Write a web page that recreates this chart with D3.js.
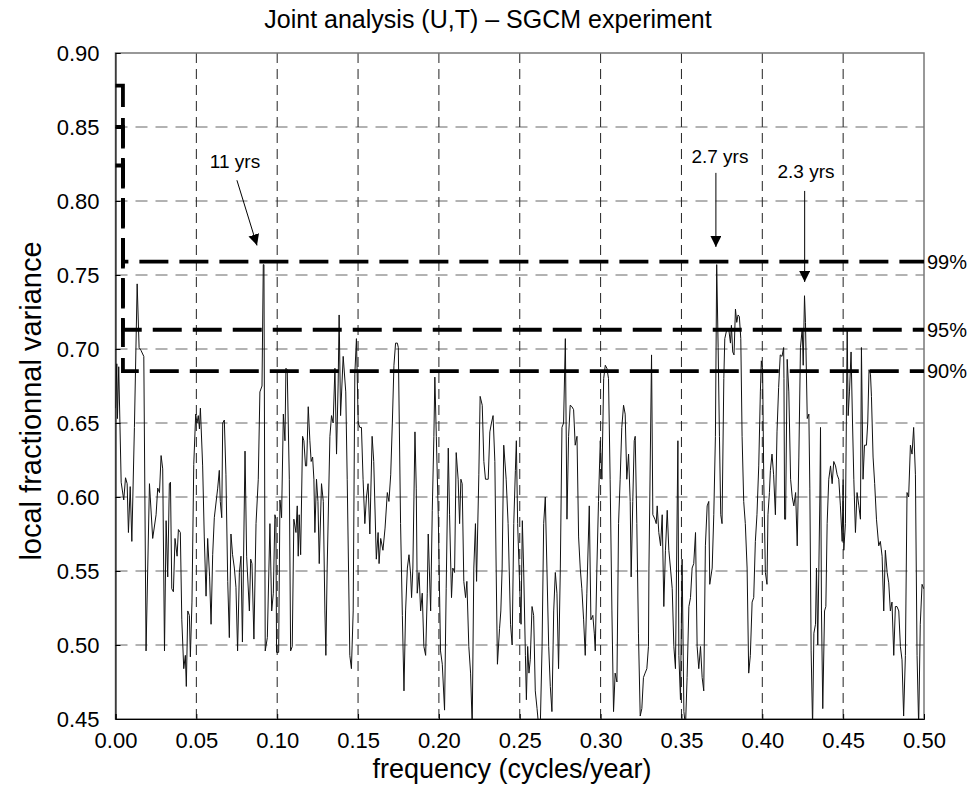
<!DOCTYPE html>
<html>
<head>
<meta charset="utf-8">
<script src="https://cdn.jsdelivr.net/npm/d3@7"></script>
<style>
  body { margin: 0; background: #fff; }
  svg { display: block; font-family: "Liberation Sans", Arial, Helvetica, sans-serif; }
</style>
</head>
<body>
<svg id="chart" width="976" height="788"></svg>
<script>
// spectrum, in bands of [frequency, local fractional variance]
const band1 = [[0.0000,0.660],[0.0008,0.690],[0.0012,0.653],[0.0020,0.688],[0.0035,0.610],[0.0051,0.598],[0.0062,0.613],[0.0072,0.609],[0.0080,0.576],[0.0091,0.607],[0.0101,0.570],[0.0117,0.647],[0.0134,0.744],[0.0146,0.701],[0.0158,0.699],[0.0175,0.695],[0.0189,0.496],[0.0210,0.609],[0.0230,0.572],[0.0251,0.588],[0.0261,0.606],[0.0272,0.603],[0.0282,0.628],[0.0292,0.619],[0.0303,0.496],[0.0313,0.584],[0.0323,0.546],[0.0333,0.609],[0.0340,0.610],[0.0348,0.538],[0.0358,0.536],[0.0368,0.572],[0.0381,0.560],[0.0389,0.578],[0.0401,0.576],[0.0410,0.517],[0.0422,0.484],[0.0432,0.493],[0.0438,0.472],[0.0447,0.523],[0.0457,0.520],[0.0463,0.492],[0.0473,0.529],[0.0484,0.622],[0.0496,0.656],[0.0504,0.650],[0.0512,0.655],[0.0519,0.646],[0.0525,0.660],[0.0539,0.621],[0.0549,0.573],[0.0560,0.533],[0.0570,0.572],[0.0582,0.546],[0.0591,0.514],[0.0601,0.561],[0.0611,0.586],[0.0632,0.606],[0.0642,0.618],[0.0648,0.597],[0.0657,0.586],[0.0663,0.650],[0.0673,0.652],[0.0683,0.615],[0.0694,0.543],[0.0704,0.505],[0.0714,0.575],[0.0724,0.561],[0.0735,0.552],[0.0745,0.539],[0.0755,0.496],[0.0766,0.549],[0.0776,0.560]];
const band2 = [[0.0785,0.502],[0.0801,0.631],[0.0811,0.560],[0.0828,0.523],[0.0836,0.558],[0.0844,0.555],[0.0856,0.504],[0.0869,0.582],[0.0883,0.612],[0.0893,0.671],[0.0906,0.675],[0.0914,0.757],[0.0918,0.757],[0.0926,0.496],[0.0939,0.505],[0.0955,0.582],[0.0966,0.523],[0.0976,0.535],[0.0986,0.588],[0.0992,0.585],[0.0996,0.495],[0.1009,0.495],[0.1017,0.598],[0.1027,0.586],[0.1038,0.656],[0.1048,0.638],[0.1054,0.687],[0.1062,0.686],[0.1075,0.612],[0.1083,0.496],[0.1093,0.499],[0.1103,0.585],[0.1116,0.576],[0.1124,0.594],[0.1130,0.560],[0.1136,0.588],[0.1145,0.561],[0.1157,0.641],[0.1165,0.638],[0.1175,0.621],[0.1182,0.621],[0.1192,0.661],[0.1202,0.638],[0.1210,0.624],[0.1219,0.627],[0.1227,0.612],[0.1233,0.576],[0.1243,0.612],[0.1252,0.597],[0.1260,0.555],[0.1274,0.609],[0.1285,0.597],[0.1295,0.523],[0.1301,0.493],[0.1309,0.552],[0.1326,0.641],[0.1336,0.655],[0.1346,0.650],[0.1357,0.687],[0.1367,0.629],[0.1377,0.677],[0.1383,0.723],[0.1392,0.655],[0.1408,0.695],[0.1424,0.671],[0.1433,0.612],[0.1449,0.493],[0.1459,0.484],[0.1470,0.523],[0.1480,0.683],[0.1490,0.707],[0.1501,0.650],[0.1511,0.647],[0.1521,0.647],[0.1531,0.612],[0.1542,0.582],[0.1552,0.600],[0.1562,0.609],[0.1573,0.575],[0.1587,0.641],[0.1597,0.624],[0.1613,0.558],[0.1624,0.576]];
const band3 = [[0.1630,0.555],[0.1640,0.572],[0.1654,0.564],[0.1667,0.579],[0.1681,0.603],[0.1691,0.597],[0.1702,0.615],[0.1712,0.650],[0.1722,0.689],[0.1732,0.704],[0.1743,0.704],[0.1749,0.701],[0.1763,0.582],[0.1774,0.520],[0.1784,0.469],[0.1794,0.523],[0.1805,0.552],[0.1815,0.561],[0.1825,0.548],[0.1831,0.532],[0.1839,0.552],[0.1852,0.644],[0.1860,0.606],[0.1866,0.535],[0.1877,0.549],[0.1887,0.523],[0.1897,0.535],[0.1907,0.499],[0.1918,0.493],[0.1928,0.535],[0.1934,0.575],[0.1949,0.523],[0.1959,0.591],[0.1969,0.641],[0.1975,0.681],[0.1984,0.641],[0.1996,0.588],[0.2010,0.496],[0.2021,0.487],[0.2035,0.456],[0.2045,0.538],[0.2058,0.633],[0.2066,0.588],[0.2078,0.532],[0.2086,0.552],[0.2097,0.549],[0.2107,0.630],[0.2119,0.612],[0.2128,0.582],[0.2136,0.612],[0.2144,0.609],[0.2154,0.543],[0.2165,0.532],[0.2173,0.543],[0.2185,0.499],[0.2196,0.481],[0.2206,0.445],[0.2216,0.552],[0.2226,0.582],[0.2233,0.543],[0.2247,0.615],[0.2255,0.668],[0.2268,0.662],[0.2278,0.624],[0.2288,0.612],[0.2305,0.612],[0.2315,0.644],[0.2325,0.650],[0.2335,0.655],[0.2346,0.624],[0.2354,0.552],[0.2362,0.487],[0.2375,0.511],[0.2383,0.523],[0.2391,0.552],[0.2401,0.635],[0.2416,0.612],[0.2428,0.582],[0.2443,0.514],[0.2453,0.500],[0.2463,0.582],[0.2473,0.618]];
const band4 = [[0.2479,0.638],[0.2487,0.582],[0.2500,0.538],[0.2508,0.514],[0.2516,0.584],[0.2524,0.552],[0.2535,0.493],[0.2541,0.463],[0.2549,0.499],[0.2557,0.481],[0.2565,0.490],[0.2576,0.526],[0.2586,0.520],[0.2596,0.469],[0.2607,0.457],[0.2617,0.445],[0.2627,0.445],[0.2638,0.499],[0.2648,0.582],[0.2658,0.600],[0.2668,0.552],[0.2679,0.499],[0.2689,0.472],[0.2699,0.455],[0.2710,0.523],[0.2720,0.549],[0.2730,0.535],[0.2740,0.484],[0.2751,0.552],[0.2761,0.647],[0.2771,0.650],[0.2782,0.707],[0.2792,0.585],[0.2802,0.641],[0.2812,0.662],[0.2823,0.661],[0.2833,0.659],[0.2843,0.635],[0.2854,0.641],[0.2864,0.573],[0.2874,0.552],[0.2884,0.538],[0.2895,0.517],[0.2905,0.493],[0.2915,0.535],[0.2930,0.594],[0.2940,0.517],[0.2952,0.520],[0.2961,0.508],[0.2967,0.496],[0.2977,0.552],[0.2987,0.597],[0.2998,0.638],[0.3008,0.612],[0.3019,0.680],[0.3029,0.689],[0.3039,0.687],[0.3049,0.680],[0.3059,0.612],[0.3070,0.523],[0.3080,0.455],[0.3090,0.481],[0.3101,0.475],[0.3111,0.582],[0.3121,0.612],[0.3131,0.647],[0.3142,0.662],[0.3152,0.656],[0.3162,0.612],[0.3173,0.629],[0.3183,0.597],[0.3189,0.546],[0.3199,0.597],[0.3208,0.638],[0.3214,0.641],[0.3224,0.582],[0.3234,0.508],[0.3245,0.452],[0.3255,0.457],[0.3265,0.478],[0.3275,0.481],[0.3286,0.484],[0.3296,0.499]];
const band5 = [[0.3299,0.552],[0.3315,0.696],[0.3323,0.588],[0.3336,0.585],[0.3344,0.582],[0.3350,0.594],[0.3360,0.576],[0.3371,0.567],[0.3381,0.588],[0.3391,0.526],[0.3401,0.564],[0.3412,0.591],[0.3422,0.564],[0.3432,0.552],[0.3443,0.538],[0.3453,0.499],[0.3463,0.484],[0.3478,0.638],[0.3484,0.493],[0.3494,0.463],[0.3504,0.558],[0.3515,0.455],[0.3525,0.445],[0.3535,0.478],[0.3546,0.526],[0.3556,0.532],[0.3566,0.552],[0.3576,0.555],[0.3587,0.576],[0.3597,0.499],[0.3607,0.484],[0.3618,0.499],[0.3628,0.478],[0.3638,0.469],[0.3648,0.567],[0.3659,0.594],[0.3669,0.597],[0.3675,0.541],[0.3690,0.552],[0.3700,0.588],[0.3710,0.641],[0.3718,0.757],[0.3727,0.701],[0.3735,0.641],[0.3743,0.588],[0.3751,0.582],[0.3762,0.680],[0.3768,0.707],[0.3782,0.714],[0.3793,0.713],[0.3803,0.704],[0.3809,0.716],[0.3817,0.698],[0.3825,0.696],[0.3834,0.727],[0.3842,0.718],[0.3850,0.723],[0.3858,0.722],[0.3867,0.707],[0.3875,0.641],[0.3885,0.597],[0.3895,0.582],[0.3906,0.552],[0.3916,0.481],[0.3926,0.493],[0.3937,0.529],[0.3947,0.532],[0.3957,0.570],[0.3967,0.588],[0.3978,0.621],[0.3988,0.671],[0.3994,0.692],[0.4002,0.686],[0.4009,0.612],[0.4019,0.549],[0.4029,0.541],[0.4035,0.588],[0.4044,0.603],[0.4050,0.618],[0.4060,0.629],[0.4070,0.615],[0.4081,0.588],[0.4091,0.644],[0.4101,0.674],[0.4111,0.696],[0.4122,0.695],[0.4132,0.701]];
const band6 = [[0.4134,0.680],[0.4138,0.585],[0.4144,0.585],[0.4154,0.693],[0.4164,0.671],[0.4175,0.612],[0.4185,0.600],[0.4195,0.594],[0.4206,0.603],[0.4216,0.567],[0.4226,0.627],[0.4236,0.701],[0.4247,0.714],[0.4253,0.689],[0.4261,0.736],[0.4267,0.718],[0.4278,0.653],[0.4288,0.656],[0.4294,0.606],[0.4302,0.496],[0.4311,0.445],[0.4319,0.508],[0.4329,0.514],[0.4335,0.552],[0.4343,0.500],[0.4356,0.600],[0.4360,0.647],[0.4366,0.523],[0.4374,0.457],[0.4385,0.523],[0.4393,0.526],[0.4401,0.582],[0.4411,0.612],[0.4422,0.621],[0.4432,0.609],[0.4442,0.624],[0.4453,0.621],[0.4463,0.615],[0.4473,0.612],[0.4483,0.594],[0.4494,0.570],[0.4500,0.612],[0.4504,0.564],[0.4514,0.582],[0.4525,0.713],[0.4531,0.655],[0.4539,0.671],[0.4549,0.698],[0.4558,0.650],[0.4566,0.612],[0.4576,0.576],[0.4586,0.603],[0.4597,0.594],[0.4607,0.585],[0.4613,0.701],[0.4623,0.612],[0.4632,0.635],[0.4644,0.635],[0.4652,0.650],[0.4660,0.686],[0.4669,0.683],[0.4675,0.668],[0.4685,0.627],[0.4695,0.609],[0.4706,0.585],[0.4720,0.567],[0.4730,0.570],[0.4741,0.560],[0.4751,0.523],[0.4761,0.564],[0.4772,0.549],[0.4782,0.542],[0.4792,0.523],[0.4802,0.529],[0.4813,0.493],[0.4823,0.526],[0.4833,0.526],[0.4844,0.523],[0.4854,0.499],[0.4864,0.490],[0.4874,0.452],[0.4885,0.493],[0.4895,0.603],[0.4905,0.600],[0.4916,0.635],[0.4926,0.629],[0.4936,0.647],[0.4947,0.615],[0.4957,0.493],[0.4967,0.445],[0.4977,0.514],[0.4988,0.541],[0.4998,0.538]];

// significance levels: value at the first bin, then the flat level
const levelNames = ['99%', '95%', '90%'];
const levelFirst = [0.878, 0.850, 0.824];
const levelFlat = [0.759, 0.713, 0.685];
const levelStepFreq = 0.0046;

// peak annotations
const peakLabels = ['11 yrs', '2.7 yrs', '2.3 yrs'];
const peakLabelAt = [[0.0739, 0.822], [0.3738, 0.8257], [0.4270, 0.8155]];
const arrowFrom = [[0.0751, 0.814], [0.3713, 0.819], [0.4262, 0.8068]];
const arrowTo = [[0.0875, 0.770], [0.3713, 0.769], [0.4262, 0.7453]];

const xTicks = [0.00, 0.05, 0.10, 0.15, 0.20, 0.25, 0.30, 0.35, 0.40, 0.45, 0.50];
const yTicks = [0.45, 0.50, 0.55, 0.60, 0.65, 0.70, 0.75, 0.80, 0.85, 0.90];

const spectrum = [...band1, ...band2, ...band3, ...band4, ...band5, ...band6];

const svg = d3.select('#chart');
const W = 976, H = 788;
const margin = { top: 53, right: 52, bottom: 69, left: 115.5 };

const x = d3.scaleLinear().domain([0, 0.5]).range([margin.left, W - margin.right]);
const y = d3.scaleLinear().domain([0.45, 0.9]).range([H - margin.bottom, margin.top]);

svg.append('defs').append('clipPath').attr('id', 'plot-clip')
  .append('rect')
  .attr('x', x(0)).attr('y', y(0.9))
  .attr('width', x(0.5) - x(0)).attr('height', y(0.45) - y(0.9));

svg.select('defs').append('marker')
  .attr('id', 'head')
  .attr('viewBox', '0 0 10 10')
  .attr('refX', 10).attr('refY', 5)
  .attr('markerWidth', 11).attr('markerHeight', 11)
  .attr('markerUnits', 'userSpaceOnUse')
  .attr('orient', 'auto')
  .append('path').attr('d', 'M0,0 L10,5 L0,10 Z').attr('fill', '#000');

// grid
svg.append('g')
  .selectAll('line')
  .data(yTicks.slice(1, -1))
  .join('line')
  .attr('x1', x(0)).attr('x2', x(0.5))
  .attr('y1', (d) => y(d)).attr('y2', (d) => y(d))
  .attr('stroke', '#666').attr('stroke-width', 1)
  .attr('stroke-dasharray', '12,8');

svg.append('g')
  .selectAll('line')
  .data(xTicks.slice(1, -1))
  .join('line')
  .attr('x1', (d) => x(d)).attr('x2', (d) => x(d))
  .attr('y1', y(0.45)).attr('y2', y(0.9))
  .attr('stroke', '#222').attr('stroke-width', 1)
  .attr('stroke-dasharray', '10,6');

// frame
svg.append('rect')
  .attr('x', x(0)).attr('y', y(0.9))
  .attr('width', x(0.5) - x(0)).attr('height', y(0.45) - y(0.9))
  .attr('fill', 'none').attr('stroke', '#777').attr('stroke-width', 1.5);

// spectrum line
const line = d3.line().x((d) => x(d[0])).y((d) => y(d[1]));
svg.append('path')
  .datum(spectrum)
  .attr('clip-path', 'url(#plot-clip)')
  .attr('d', line)
  .attr('fill', 'none')
  .attr('stroke', '#111')
  .attr('stroke-width', 1)
  .attr('stroke-linejoin', 'round');

// significance levels
const stepLine = d3.line().curve(d3.curveStepAfter).x((d) => x(d[0])).y((d) => y(d[1]));
levelNames.forEach((name, i) => {
  const pts = [[0, levelFirst[i]], [levelStepFreq, levelFlat[i]], [0.5, levelFlat[i]]];
  svg.append('path')
    .datum(pts)
    .attr('d', stepLine)
    .attr('fill', 'none')
    .attr('stroke', '#000')
    .attr('stroke-width', 3.8)
    .attr('stroke-dasharray', '29,11');
  svg.append('text')
    .attr('x', x(0.5) + 3)
    .attr('y', y(levelFlat[i]))
    .attr('dy', '0.35em')
    .attr('font-size', 20)
    .text(name);
});

// axes
const xAxis = d3.axisBottom(x).tickValues(xTicks).tickFormat(d3.format('.2f'))
  .tickSize(-5).tickPadding(13);
const yAxis = d3.axisLeft(y).tickValues(yTicks).tickFormat(d3.format('.2f'))
  .tickSize(-5).tickPadding(16);

svg.append('g')
  .attr('transform', `translate(0,${y(0.45)})`)
  .call(xAxis)
  .call((g) => g.select('.domain').attr('stroke', '#000'))
  .call((g) => g.selectAll('text').attr('font-size', 22).attr('font-family', null).attr('fill', '#000'));

svg.append('g')
  .attr('transform', `translate(${x(0)},0)`)
  .call(yAxis)
  .call((g) => g.select('.domain').attr('stroke', '#000'))
  .call((g) => g.selectAll('text').attr('font-size', 22).attr('font-family', null).attr('fill', '#000'));

svg.selectAll('.tick line').attr('stroke', '#000');

// annotations
peakLabels.forEach((label, i) => {
  svg.append('text')
    .attr('x', x(peakLabelAt[i][0]))
    .attr('y', y(peakLabelAt[i][1]))
    .attr('text-anchor', 'middle')
    .attr('font-size', 19)
    .text(label);
  svg.append('line')
    .attr('x1', x(arrowFrom[i][0])).attr('y1', y(arrowFrom[i][1]))
    .attr('x2', x(arrowTo[i][0])).attr('y2', y(arrowTo[i][1]))
    .attr('stroke', '#000').attr('stroke-width', 1)
    .attr('marker-end', 'url(#head)');
});

// titles
svg.append('text')
  .attr('x', W / 2)
  .attr('y', 28)
  .attr('text-anchor', 'middle')
  .attr('font-size', 25)
  .text('Joint analysis (U,T) \u2013 SGCM experiment');

svg.append('text')
  .attr('x', 512)
  .attr('y', 778)
  .attr('text-anchor', 'middle')
  .attr('font-size', 27)
  .text('frequency (cycles/year)');

svg.append('text')
  .attr('transform', `translate(41,401) rotate(-90)`)
  .attr('text-anchor', 'middle')
  .attr('font-size', 29)
  .text('local fractionnal variance');
</script>
</body>
</html>
